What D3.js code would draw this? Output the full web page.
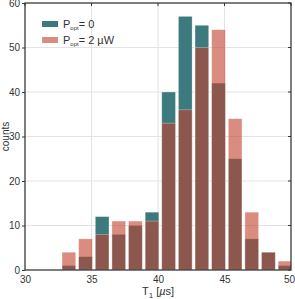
<!DOCTYPE html>
<html>
<head>
<meta charset="utf-8">
<script src="https://cdn.jsdelivr.net/npm/d3@7"></script>
<style>
  body { margin: 0; background: #fff; }
  text { font-family: "Liberation Sans", Arial, sans-serif; fill: #333; }
</style>
</head>
<body>
<script>
// bin centres (µs) and counts for the two powers
let binCenters = [33.3, 34.55, 35.8, 37.05, 38.3, 39.55, 40.8, 42.05, 43.3, 44.55, 45.8, 47.05, 48.3, 49.55];
let countsDark = [1, 3, 12, 8, 10, 13, 40, 57, 55, 42, 25, 7, 4, 1];
let countsLight = [4, 7, 8, 11, 11, 11, 33, 36, 50, 54, 34, 13, 4, 2];
let xTicks = [30, 35, 40, 45, 50];
let yTicks = [0, 10, 20, 30, 40, 50, 60];

let width = 295, height = 299;
let margin = {top: 3, right: 4, bottom: 29, left: 25};

let svg = d3.select('body')
    .append('svg')
    .attr('width', width)
    .attr('height', height);

let xScale = d3.scaleLinear()
    .domain([30, 50])
    .range([margin.left, width - margin.right]);

let yScale = d3.scaleLinear()
    .domain([0, 60])
    .range([height - margin.bottom, margin.top]);

// grid
svg.append('g')
    .selectAll('line.gx')
    .data(xTicks)
    .enter()
    .append('line')
    .attr('x1', d => xScale(d)).attr('x2', d => xScale(d))
    .attr('y1', yScale(0)).attr('y2', yScale(60))
    .attr('stroke', '#e3e3e3');

svg.append('g')
    .selectAll('line.gy')
    .data(yTicks)
    .enter()
    .append('line')
    .attr('y1', d => yScale(d)).attr('y2', d => yScale(d))
    .attr('x1', xScale(30)).attr('x2', xScale(50))
    .attr('stroke', '#e3e3e3');

// bars
let barW = xScale(1.03) - xScale(0);
svg.append('clipPath').attr('id', 'plot')
    .append('rect')
    .attr('x', xScale(30)).attr('y', yScale(60))
    .attr('width', xScale(50) - xScale(30))
    .attr('height', yScale(0) - yScale(60));

let bars = svg.append('g').attr('clip-path', 'url(#plot)');

function drawSeries(counts, color, opacity) {
  bars.append('g')
      .selectAll('rect')
      .data(counts)
      .enter()
      .append('rect')
      .attr('x', (d, i) => xScale(binCenters[i]) - barW / 2)
      .attr('y', d => yScale(d))
      .attr('width', barW)
      .attr('height', d => yScale(0) - yScale(d))
      .attr('fill', color)
      .attr('fill-opacity', opacity)
      .attr('stroke', '#fff')
      .attr('stroke-opacity', 0.5)
      .attr('stroke-width', 0.6);
}
drawSeries(countsDark, '#3d7a7d', 1);
drawSeries(countsLight, '#c2402c', 0.6);

// axes
let xAxis = svg.append('g')
    .attr('transform', `translate(0, ${yScale(0)})`)
    .call(d3.axisBottom(xScale).tickValues(xTicks).tickSize(0).tickPadding(6));
let yAxis = svg.append('g')
    .attr('transform', `translate(${margin.left}, 0)`)
    .call(d3.axisLeft(yScale).tickValues(yTicks).tickSize(3).tickPadding(2));

[xAxis, yAxis].forEach(a => {
  a.select('.domain').remove();
  a.selectAll('text').style('font-size', '10px').attr('fill', '#333');
  a.selectAll('line').attr('stroke', '#333');
});
// last x label sits just inside the window edge
xAxis.selectAll('.tick text').filter(d => d === 50).attr('dx', -2);

// top and right ticks (inward)
svg.append('g').selectAll('line')
    .data(xTicks)
    .enter()
    .append('line')
    .attr('x1', d => xScale(d)).attr('x2', d => xScale(d))
    .attr('y1', yScale(60)).attr('y2', yScale(60) + 3)
    .attr('stroke', '#333');
svg.append('g').selectAll('line')
    .data(yTicks)
    .enter()
    .append('line')
    .attr('y1', d => yScale(d)).attr('y2', d => yScale(d))
    .attr('x1', xScale(50)).attr('x2', xScale(50) - 3)
    .attr('stroke', '#333');

// frame
svg.append('rect')
    .attr('x', xScale(30)).attr('y', yScale(60))
    .attr('width', xScale(50) - xScale(30))
    .attr('height', yScale(0) - yScale(60))
    .attr('fill', 'none')
    .attr('stroke', '#333')
    .attr('stroke-width', 1.2);

// axis labels
let xl = svg.append('text')
    .attr('x', xScale(40))
    .attr('y', height - 4)
    .attr('text-anchor', 'middle')
    .style('font-size', '11px');
xl.append('tspan').text('T');
xl.append('tspan').attr('dy', 3).style('font-size', '8px').text('1');
xl.append('tspan').attr('dy', -3).text(' [');
xl.append('tspan').style('font-style', 'italic').text('µ');
xl.append('tspan').text('s]');

svg.append('text')
    .attr('transform', `translate(9, ${yScale(30)}) rotate(-90)`)
    .attr('text-anchor', 'middle')
    .style('font-size', '10px')
    .text('counts');

// legend
let legend = [
  {label: '0', color: '#3d7a7d', opacity: 1},
  {label: '2 µW', color: '#c2402c', opacity: 0.6}
];
let lg = svg.append('g');
legend.forEach((d, i) => {
  let y0 = 21 + i * 16;
  lg.append('rect')
      .attr('x', 42).attr('y', y0)
      .attr('width', 16).attr('height', 6)
      .attr('fill', d.color)
      .attr('fill-opacity', d.opacity);
  let t = lg.append('text')
      .attr('x', 63).attr('y', y0 + 7)
      .style('font-size', '11px');
  t.append('tspan').text('P');
  t.append('tspan').attr('dy', 2).style('font-size', '6px').text('opt');
  t.append('tspan').attr('dy', -2).text('= ' + d.label);
});
</script>
</body>
</html>
